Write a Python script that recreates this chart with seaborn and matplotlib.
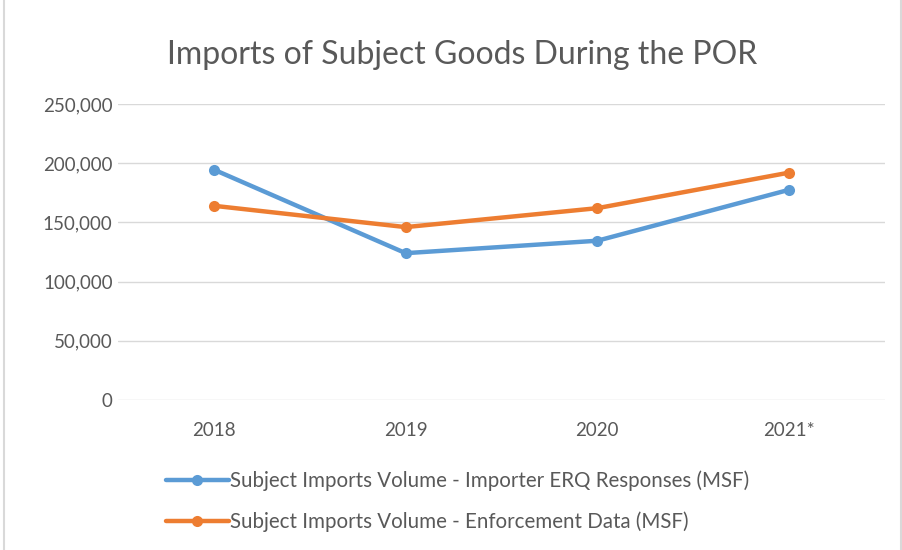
import pandas as pd
import seaborn as sns
import matplotlib.pyplot as plt
from matplotlib.ticker import FuncFormatter
from matplotlib.patches import Rectangle

# -------- data --------
years = ['2018', '2019', '2020', '2021*']
erq_volume = [194500, 124000, 134500, 177500]
enforcement_volume = [164000, 146000, 162000, 192000]
series_names = ['Subject Imports Volume - Importer ERQ Responses (MSF)',
                'Subject Imports Volume - Enforcement Data (MSF)']

df = pd.DataFrame({
    'year': years * 2,
    'volume': erq_volume + enforcement_volume,
    'series': [series_names[0]] * len(years) + [series_names[1]] * len(years),
})

# -------- style --------
sns.set_style('white')
plt.rcParams['font.family'] = ['Lato', 'DejaVu Sans']
text_grey = '#595959'
palette = {series_names[0]: '#5B9BD5', series_names[1]: '#ED7D31'}

fig = plt.figure(figsize=(9.02, 5.5), dpi=100)
ax = fig.add_axes([0.131, 0.2727, 0.85, 0.5383])

sns.lineplot(data=df, x='year', y='volume', hue='series', palette=palette,
             marker='o', markersize=8, markeredgewidth=0, linewidth=3.2,
             sort=False, ax=ax, legend=False)

ax.set_ylim(0, 250000)
ax.set_xlim(-0.5, 3.5)
ax.set_yticks(range(0, 250001, 50000))
ax.yaxis.set_major_formatter(FuncFormatter(lambda v, p: f'{int(v):,}'))
ax.grid(axis='y', color='#D9D9D9', linewidth=1)
ax.set_axisbelow(True)
for side in ['top', 'right', 'left', 'bottom']:
    ax.spines[side].set_visible(False)
ax.tick_params(axis='both', length=0, labelsize=13.5, labelcolor=text_grey)
ax.tick_params(axis='x', pad=16)
ax.tick_params(axis='y', pad=4)
ax.set_xlabel('')
ax.set_ylabel('')

fig.text(0.512, 0.9, 'Imports of Subject Goods During the POR',
         ha='center', va='center', fontsize=23, color=text_grey)

# legend below the plot, stacked
handles = [plt.Line2D([0], [0], color=palette[s], lw=3.2, marker='o',
                      markersize=8, markeredgewidth=0) for s in series_names]
fig.legend(handles, series_names, loc='center left',
           bbox_to_anchor=(0.163, 0.089), frameon=False,
           fontsize=14.8, labelcolor=text_grey, handlelength=3.1,
           handletextpad=0.05, labelspacing=1.0)

# thin outer border like the pasted chart
fig.patches.append(Rectangle((0.004, -0.01), 0.995, 1.02, transform=fig.transFigure,
                             fill=False, edgecolor='#D9D9D9', linewidth=1.5))

fig.savefig('out.png', dpi=100)
